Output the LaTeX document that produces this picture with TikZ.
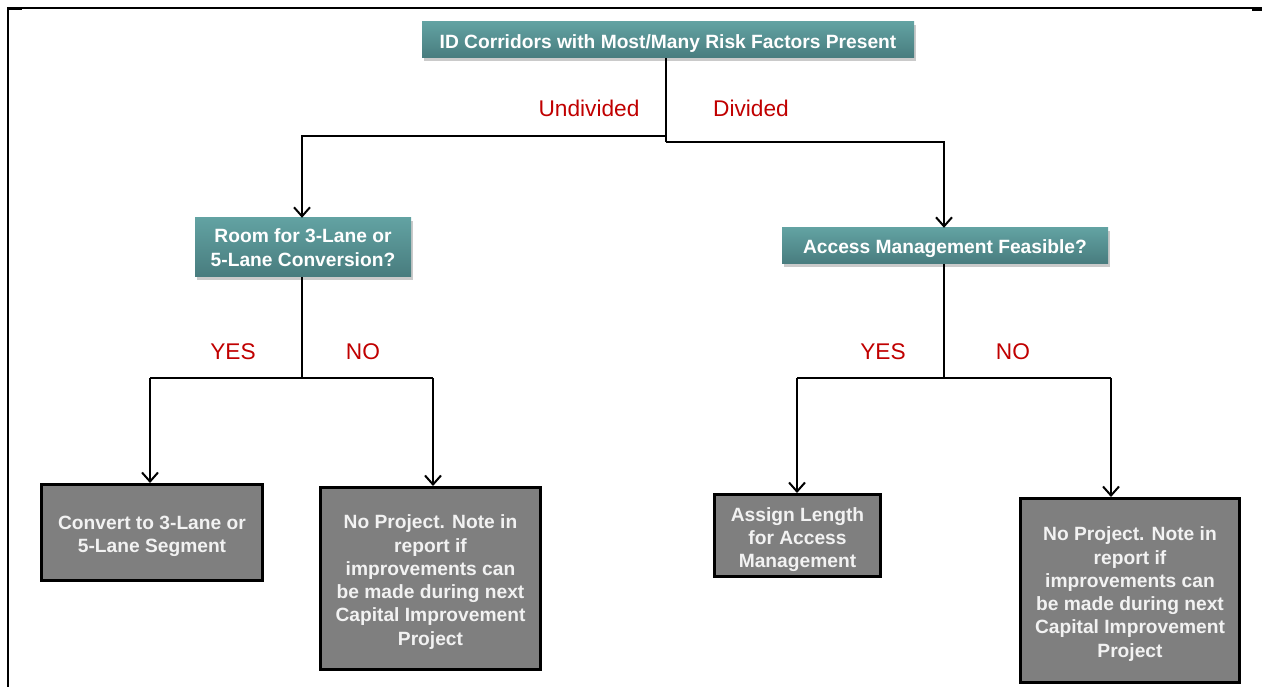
\documentclass[tikz,border=0pt]{standalone}
\usepackage{fontspec}
\setmainfont{Liberation Sans}
\usetikzlibrary{arrows.meta,shadows,calc}
\definecolor{tealtop}{RGB}{98,162,162}
\definecolor{tealbot}{RGB}{72,124,126}
\definecolor{boxgray}{RGB}{127,127,127}
\definecolor{lblred}{RGB}{192,0,0}
\begin{document}
\begin{tikzpicture}[x=1pt,y=1pt,
  tealbox/.style={rectangle, inner sep=0pt, top color=tealtop, bottom color=tealbot, draw=none,
    text=white, align=center, font=\fontsize{19.2}{23.3}\selectfont\bfseries,
    execute at begin node={\rule{0pt}{20pt}},
    drop shadow={shadow xshift=1.5pt, shadow yshift=-3pt, opacity=0.35, fill=black!60}},
  graybox/.style={rectangle, inner sep=0pt, fill=boxgray, draw=black, line width=3pt},
  boxtext/.style={inner sep=0pt, text=white!95!black, align=center,
    font=\fontsize{19.2}{23.3}\selectfont\bfseries},
  conn/.style={draw=black, line width=2pt},
  arr/.style={conn, -{Straight Barb[length=9pt,width=16pt]}},
  lbl/.style={text=lblred, font=\fontsize{22.7}{26}\selectfont, inner sep=0pt}
]
\useasboundingbox (0,0) rectangle (1262,-687);
% frame
\draw[line width=1.8pt] (8,-687) -- (8,-8) -- (1262,-8);
\draw[line width=3pt] (8,-9) -- (22,-9);
\draw[line width=3pt] (1252,-9.5) -- (1262,-9.5);

% decision nodes
\node[tealbox, minimum width=492pt, minimum height=36pt] (top) at (668,-40)
  {ID Corridors with Most/Many Risk Factors Present};
\node[tealbox, minimum width=216pt, minimum height=59pt] (room) at (303,-247.5)
  {Room for 3-Lane or\\5-Lane Conversion?};
\node[tealbox, minimum width=326pt, minimum height=36pt] (access) at (945,-246)
  {Access Management Feasible?};

% outcome boxes
\node[graybox, minimum width=221pt, minimum height=96pt] (convert) at (152,-532.5) {};
\node[graybox, minimum width=220pt, minimum height=182pt] (noproj1) at (430.5,-578.5) {};
\node[graybox, minimum width=166pt, minimum height=82pt] (assign) at (797.5,-535.5) {};
\node[graybox, minimum width=219pt, minimum height=184pt] (noproj2) at (1130,-590.5) {};

\node[boxtext] (convertT) at ([yshift=-4pt]convert.center)
  {Convert to 3-Lane or\\5-Lane Segment};
\node[boxtext] (noproj1T) at ([yshift=-3.5pt]noproj1.center)
  {No Project. Note in\\report if\\improvements can\\be made during next\\Capital Improvement\\Project};
\node[boxtext] (assignT) at ([yshift=-4pt]assign.center)
  {Assign Length\\for Access\\Management};
\node[boxtext] (noproj2T) at ([yshift=-3.5pt]noproj2.center)
  {No Project. Note in\\report if\\improvements can\\be made during next\\Capital Improvement\\Project};

% junction coordinates
\coordinate (j1) at (666,-136);
\coordinate (j2) at (666,-142);
\coordinate (k1) at (302,-378);
\coordinate (k2) at (944,-378);
\coordinate (a1) at (150,-378);
\coordinate (a2) at (433,-378);
\coordinate (a3) at (797,-378);
\coordinate (a4) at (1111,-378);

% connectors
\draw[conn] (j2 |- top.south) -- (j2);
\draw[arr] (j1) -| (room.north -| k1);
\draw[arr] (j2) -| (access.north -| k2);
\draw[conn] (room.south -| k1) -- (k1);
\draw[conn] (a1) -- (a2);
\draw[arr] (a1) -- (a1 |- convert.north);
\draw[arr] (a2) -- (a2 |- noproj1.north);
\draw[conn] (access.south -| k2) -- (k2);
\draw[conn] (a3) -- (a4);
\draw[arr] (a3) -- (a3 |- assign.north);
\draw[arr] (a4) -- (a4 |- noproj2.north);

% labels
\node[lbl] (lund) at (589,-108) {Undivided};
\node[lbl] (ldiv) at (751,-108) {Divided};
\node[lbl] (lyes1) at (233,-352) {YES};
\node[lbl] (lno1) at (363,-352) {NO};
\node[lbl] (lyes2) at (883,-352) {YES};
\node[lbl] (lno2) at (1013,-352) {NO};
\end{tikzpicture}
\end{document}
